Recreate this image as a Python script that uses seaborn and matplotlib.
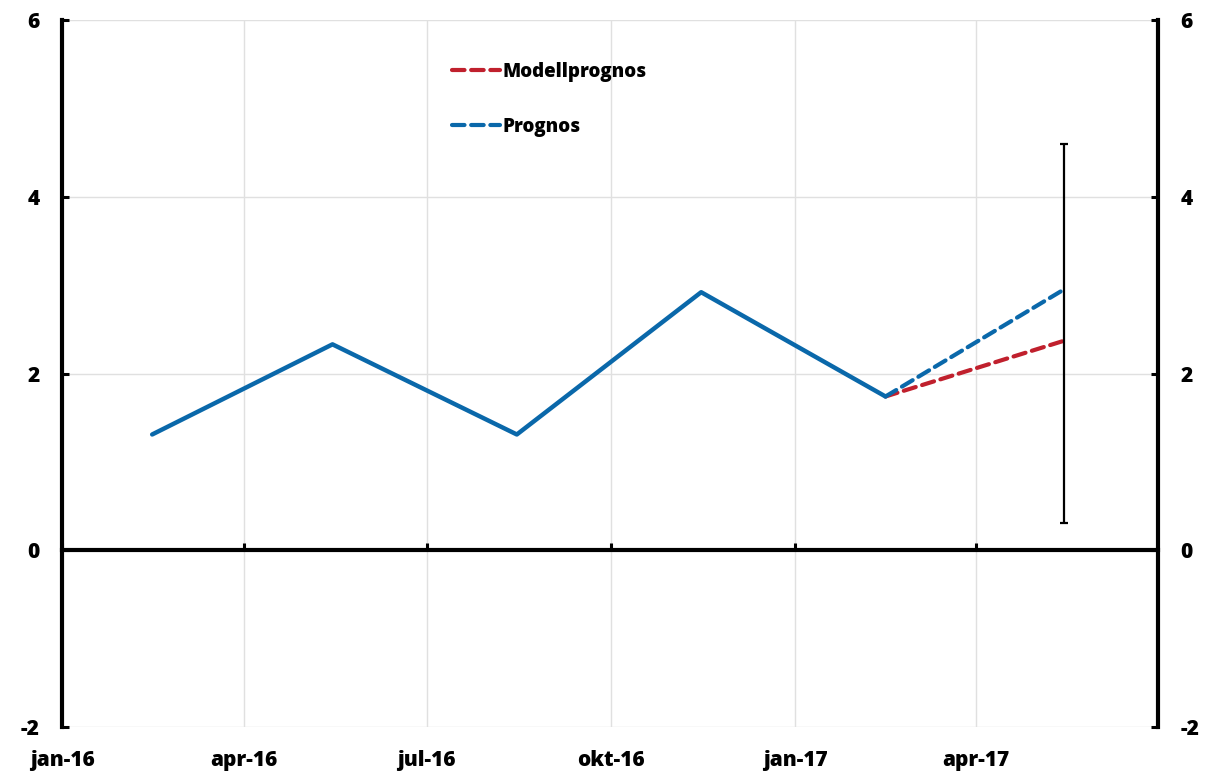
import pandas as pd
import matplotlib.pyplot as plt
import seaborn as sns

# Utfall (kvartalsvis, mitten av mellanmånaden)
datum_utfall = ["2016-02-15", "2016-05-15", "2016-08-15", "2016-11-15", "2017-02-15"]
utfall = [1.31, 2.33, 1.31, 2.92, 1.74]

# Prognoser från sista utfallet
datum_prognos = ["2017-02-15", "2017-05-15"]
modellprognos = [1.74, 2.37]
prognos = [1.74, 2.95]

# Osäkerhetsintervall
datum_intervall = ["2017-05-15"]
intervall_lag = [0.31]
intervall_hog = [4.60]

tick_datum = ["2016-01-01", "2016-04-01", "2016-07-01", "2016-10-01", "2017-01-01", "2017-04-01"]
tick_etiketter = ["jan-16", "apr-16", "jul-16", "okt-16", "jan-17", "apr-17"]
y_ticks = [-2, 0, 2, 4, 6]

BLA = "#0A68AA"
ROD = "#C0202D"

sns.set_theme(style="white")
plt.rcParams['font.family'] = ['Open Sans', 'DejaVu Sans']
plt.rcParams['font.weight'] = 800
plt.rcParams['text.color'] = 'black'
plt.rcParams['axes.unicode_minus'] = False

df_utfall = pd.DataFrame({"datum": pd.to_datetime(datum_utfall), "varde": utfall})
df_prog = pd.DataFrame({"datum": pd.to_datetime(datum_prognos),
                        "Modellprognos": modellprognos, "Prognos": prognos})

fig = plt.figure(figsize=(12.05, 7.76), dpi=100)
ax = fig.add_axes([62 / 1205, 1 - 727 / 776, 1096 / 1205, 707 / 776])

sns.lineplot(data=df_prog, x="datum", y="Modellprognos", ax=ax, color=ROD, lw=3,
             linestyle=(0, (3, 1.6)), dash_capstyle="round", label="Modellprognos")
sns.lineplot(data=df_prog, x="datum", y="Prognos", ax=ax, color=BLA, lw=3,
             linestyle=(0, (3, 1.6)), dash_capstyle="round", label="Prognos")
sns.lineplot(data=df_utfall, x="datum", y="varde", ax=ax, color=BLA, lw=3.2, label="_utfall")

# felstapel
x_int = pd.to_datetime(datum_intervall)
mitt = [prognos[-1]]
ax.errorbar(x_int, mitt,
            yerr=[[m - l for m, l in zip(mitt, intervall_lag)],
                  [h - m for h, m in zip(intervall_hog, mitt)]],
            fmt="none", ecolor="black", elinewidth=1.6, capsize=3, capthick=1.6, zorder=5)

ax.set_xlim(pd.Timestamp("2016-01-01"), pd.Timestamp("2017-07-01"))
ax.set_ylim(-2, 6)
ax.set_xticks(pd.to_datetime(tick_datum))
ax.set_xticklabels(tick_etiketter)
ax.set_yticks(y_ticks)
ax.set_xlabel("")
ax.set_ylabel("")

ax.grid(True, color="#E0E0E0", lw=1)
ax.set_axisbelow(True)

for s in ["top", "right"]:
    ax.spines[s].set_visible(False)
ax.spines["left"].set_linewidth(3)
ax.spines["left"].set_color("black")
ax.spines["bottom"].set_position(("data", 0))
ax.spines["bottom"].set_linewidth(3)
ax.spines["bottom"].set_color("black")

ax.tick_params(axis="y", direction="in", length=5, width=2.2, colors="black",
               labelsize=15, pad=16, left=True)
ax.tick_params(axis="x", direction="in", length=5, width=2.2, colors="black",
               labelsize=15, pad=144, bottom=True)

ax2 = ax.twinx()
ax2.set_ylim(-2, 6)
ax2.set_yticks(y_ticks)
for s in ["top", "left", "bottom"]:
    ax2.spines[s].set_visible(False)
ax2.spines["right"].set_linewidth(3)
ax2.spines["right"].set_color("black")
ax2.tick_params(axis="y", direction="in", length=5, width=2.2, colors="black",
                labelsize=15, pad=16, right=True)
ax2.grid(False)

leg = ax.legend(loc="upper left", bbox_to_anchor=(0.356, 0.941), frameon=False,
                fontsize=13.5, handlelength=2.55, handletextpad=0.15, labelspacing=1.88,
                borderpad=0, borderaxespad=0)

for t in ax.get_xticklabels() + ax.get_yticklabels() + ax2.get_yticklabels() + leg.get_texts():
    t.set_fontweight(800)
    t.set_color("black")

fig.savefig("out.png", dpi=100)
